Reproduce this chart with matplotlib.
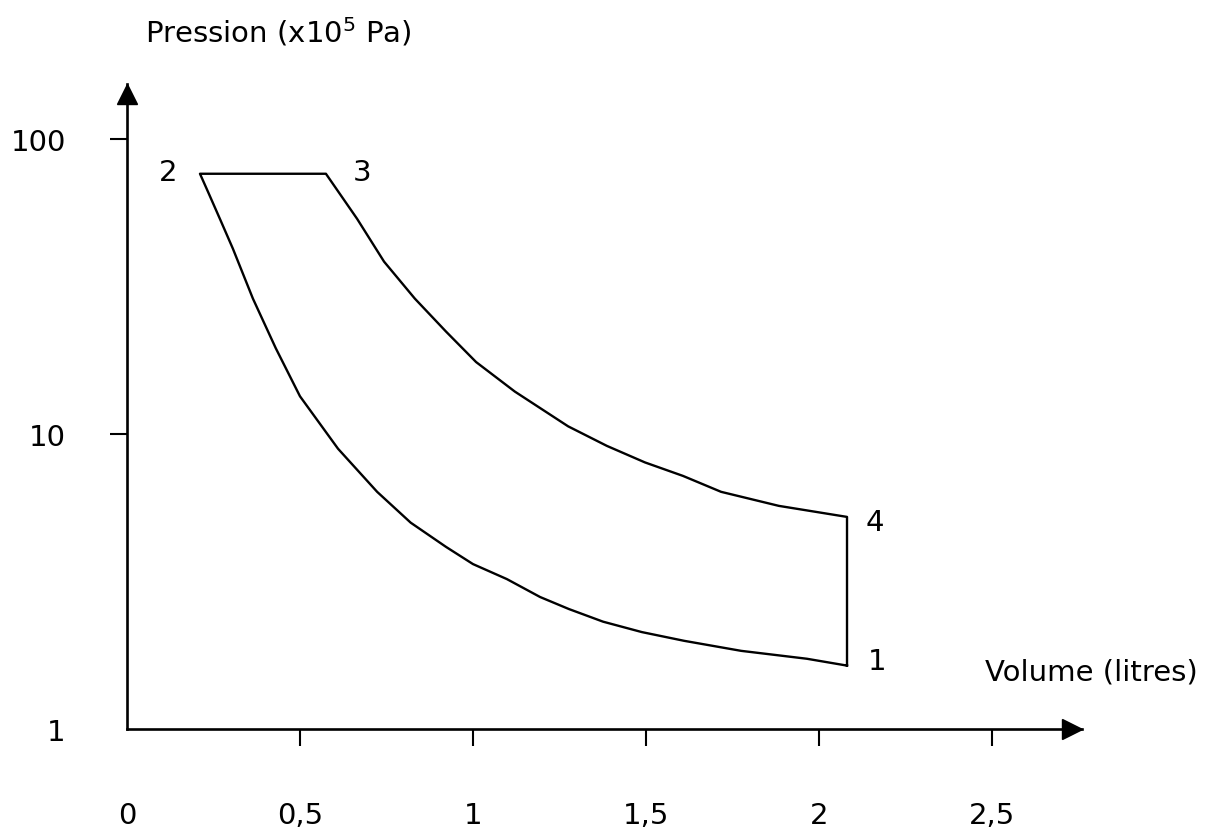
import matplotlib
matplotlib.use("Agg")
import matplotlib.pyplot as plt

# Cycle Diesel : pression (x10^5 Pa, échelle log) en fonction du volume (litres)
# compression 2 -> 1 (lue de 2 vers 1)
v_compression = [0.211, 0.234, 0.270, 0.306, 0.364, 0.430, 0.500, 0.610, 0.723, 0.820,
                 0.922, 1.000, 1.098, 1.194, 1.277, 1.376, 1.488, 1.610, 1.775, 1.965, 2.081]
p_compression = [76.0, 66.1, 53.0, 42.4, 28.7, 19.5, 13.4, 8.9, 6.36, 5.0,
                 4.14, 3.62, 3.22, 2.80, 2.55, 2.31, 2.13, 1.99, 1.84, 1.73, 1.64]
# détente 3 -> 4
v_detente = [0.575, 0.665, 0.743, 0.832, 0.922, 1.009, 1.121, 1.275, 1.387,
             1.497, 1.607, 1.717, 1.884, 2.081]
p_detente = [76.0, 53.5, 38.3, 28.7, 22.2, 17.5, 13.9, 10.6, 9.1,
             8.0, 7.2, 6.36, 5.70, 5.23]

x_ticks = [0, 0.5, 1, 1.5, 2, 2.5]
x_labels = ["0", "0,5", "1", "1,5", "2", "2,5"]
y_ticks = [1, 10, 100]
y_labels = ["1", "10", "100"]
points = ["1", "2", "3", "4"]

plt.rcParams['font.family'] = ['DejaVu Sans']
fs = 21

fig = plt.figure(figsize=(12.15, 8.37), dpi=100)
ax = fig.add_axes([0.1045, 0.1278, 0.786, 0.7706])

# contour du cycle : 1 -> 2 -> 3 -> 4 -> 1
v = v_compression[::-1] + v_detente + [v_compression[-1]]
p = p_compression[::-1] + p_detente + [p_compression[-1]]
ax.plot(v, p, color="black", lw=1.7)

ax.set_yscale("log")
ax.set_xlim(0, 2.76)
ax.set_ylim(1, 153)

for s in ["top", "right"]:
    ax.spines[s].set_visible(False)
for s in ["left", "bottom"]:
    ax.spines[s].set_linewidth(1.9)

# flèches au bout des axes
ax.plot(0.99, 0, ">", color="black", ms=14, transform=ax.transAxes, clip_on=False)
ax.plot(0, 0.985, "^", color="black", ms=14, transform=ax.transAxes, clip_on=False)

ax.set_xticks(x_ticks)
ax.set_xticklabels(x_labels, fontsize=fs)
ax.set_yticks(y_ticks)
ax.set_yticklabels(y_labels, fontsize=fs)
ax.yaxis.set_minor_locator(matplotlib.ticker.NullLocator())
ax.tick_params(axis="x", direction="out", length=12, width=1.5, pad=40)
ax.tick_params(axis="y", direction="out", length=12, width=1.5, pad=32)
ax.xaxis.get_major_ticks()[0].tick1line.set_visible(False)
ax.yaxis.get_major_ticks()[0].tick1line.set_visible(False)

# numéros des états
coords = {
    "1": (v_compression[-1], p_compression[-1], (22, 3)),
    "2": (v_compression[0], p_compression[0], (-23, 1)),
    "3": (v_detente[0], p_detente[0], (26, 1)),
    "4": (v_detente[-1], p_detente[-1], (20, -4)),
}
for n in points:
    x, y, off = coords[n]
    ax.annotate(n, (x, y), xytext=off, textcoords="offset points",
                ha="center", va="center", fontsize=fs)

fig.text(145 / 1215, 1 - 32 / 837, "Pression (x10$^{5}$ Pa)", fontsize=fs,
         ha="left", va="center")
fig.text(1198 / 1215, 1 - 672 / 837, "Volume (litres)", fontsize=fs,
         ha="right", va="center")

fig.savefig("out.png", dpi=100)
